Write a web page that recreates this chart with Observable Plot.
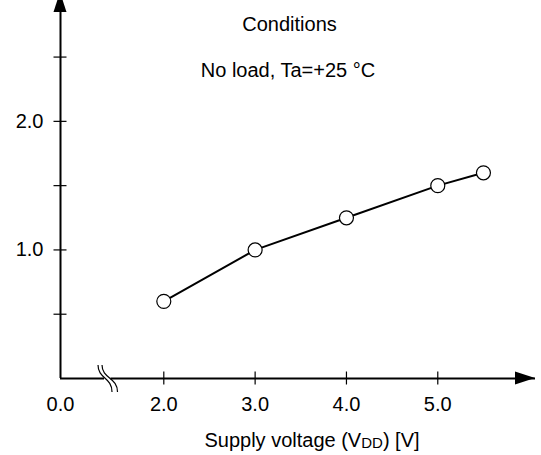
<!DOCTYPE html>
<html>
<head>
<meta charset="utf-8">
<script src="https://cdn.jsdelivr.net/npm/d3@7"></script>
<script src="https://cdn.jsdelivr.net/npm/@observablehq/plot@0.6"></script>
<style>
  html, body { margin: 0; padding: 0; background: #fff; }
</style>
</head>
<body>
<div id="chart"></div>
<script>
// ---- data ----
const voltage = [2.0, 3.0, 4.0, 5.0, 5.5];
const current = [0.6, 1.0, 1.25, 1.5, 1.6];
const xTickValues = [0, 2, 3, 4, 5];
const xTickLabels = ["0.0", "2.0", "3.0", "4.0", "5.0"];
const yTickValues = [0.5, 1.0, 1.5, 2.0, 2.5];
const yTickLabels = ["", "1.0", "", "2.0", ""];
const conditionLines = ["Conditions", "No load, Ta=+25 °C"];
const xTitleParts = ["Supply voltage (V", "DD", ") [V]"];
const breakAt = 0.92; // axis break location (x value between 0 and 2)

const data = voltage.map((v, i) => ({v, c: current[i]}));
const FONT = "'Liberation Sans', Arial, Helvetica, sans-serif";

// custom decorations: axis arrowheads, axis break, x title with subscript
function decorations(index, scales, values, dims) {
  const g = d3.create("svg:g");
  const x0 = scales.x(0), y0 = scales.y(0);
  const top = dims.marginTop, right = dims.width - dims.marginRight;
  const L = 20, H = 6.5;
  // up arrow (tip cropped above the svg top)
  g.append("path")
    .attr("d", `M${x0 - H},${top + 12}L${x0 + H},${top + 12}L${x0},${top + 12 - L}Z`)
    .attr("fill", "black");
  // right arrow
  g.append("path")
    .attr("d", `M${right - L},${y0 - H}L${right - L},${y0 + H}L${right},${y0}Z`)
    .attr("fill", "black");
  // axis break
  const cx = scales.x(breakAt);
  g.append("rect").attr("x", cx - 3.5).attr("y", y0 - 3).attr("width", 6.5).attr("height", 6).attr("fill", "white");
  const curve = (a, b) => `M${cx + a},${y0 - 13}C${cx + a},${y0 + 1} ${cx + b},${y0 - 1} ${cx + b},${y0 + 14}`;
  g.append("path").attr("d", curve(-9.5, 4.5)).attr("fill", "none").attr("stroke", "black").attr("stroke-width", 1.2);
  g.append("path").attr("d", curve(-5.5, 10)).attr("fill", "none").attr("stroke", "black").attr("stroke-width", 1.2);
  // x title with subscript
  const t = g.append("text")
    .attr("x", (dims.marginLeft + right) / 2 + 14.5)
    .attr("y", dims.height - 8)
    .attr("text-anchor", "middle")
    .attr("font-size", 20)
    .attr("font-family", FONT)
    .attr("fill", "black");
  t.append("tspan").text(xTitleParts[0]);
  t.append("tspan").attr("font-size", 15).attr("dy", 1).text(xTitleParts[1]);
  t.append("tspan").attr("dy", -1).text(xTitleParts[2]);
  return g.node();
}

const chart = Plot.plot({
  width: 541,
  height: 455,
  marginLeft: 60,
  marginRight: 6,
  marginTop: 0,
  marginBottom: 77,
  style: {fontFamily: FONT, fontSize: "20px", background: "white", color: "black"},
  x: {type: "linear", domain: [0, 2, 6.07], range: [60, 163.3, 535], label: null, axis: null},
  y: {domain: [0, 2.94], label: null, axis: null},
  marks: [
    Plot.ruleX([0], {stroke: "black", strokeWidth: 2}),
    Plot.ruleY([0], {stroke: "black", strokeWidth: 2}),
    Plot.axisY({ticks: yTickValues, tickSize: 13, dx: 6.5, tickFormat: () => "", strokeWidth: 1.2, label: null}),
    Plot.axisY({ticks: yTickValues.filter((d, i) => yTickLabels[i]), tickSize: 0, tickPadding: 17,
      tickFormat: d => yTickLabels[yTickValues.indexOf(d)], fontSize: 20, label: null}),
    Plot.axisX({ticks: xTickValues.filter(d => d > 0), tickSize: 13, dy: -6.5, tickFormat: () => "", strokeWidth: 1.2, label: null}),
    Plot.axisX({ticks: xTickValues, tickSize: 0, tickPadding: 18,
      tickFormat: d => xTickLabels[xTickValues.indexOf(d)], fontSize: 20, label: null}),
    Plot.line(data, {x: "v", y: "c", stroke: "black", strokeWidth: 2}),
    Plot.dot(data, {x: "v", y: "c", r: 7, fill: "white", stroke: "black", strokeWidth: 1.2}),
    Plot.text([conditionLines[0]], {frameAnchor: "top", lineAnchor: "bottom", dx: -8.5, dy: 30, fontSize: 20, fill: "black"}),
    Plot.text([conditionLines[1]], {frameAnchor: "top", lineAnchor: "bottom", dx: -10, dy: 76.5, fontSize: 20, fill: "black"}),
    decorations
  ]
});
document.getElementById("chart").appendChild(chart);
</script>
</body>
</html>
